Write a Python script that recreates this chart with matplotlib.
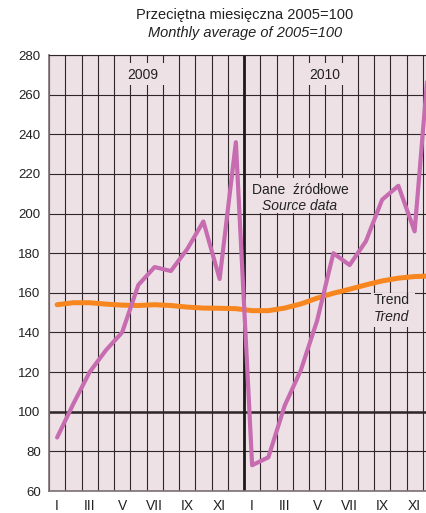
import matplotlib
matplotlib.use("Agg")
import matplotlib.pyplot as plt
from matplotlib.patches import Rectangle
import numpy as np

plt.rcParams['font.family'] = ['Liberation Sans', 'DejaVu Sans']

months = ["I", "II", "III", "IV", "V", "VI", "VII", "VIII", "IX", "X", "XI", "XII"] * 2
tick_labels = ["I", "III", "V", "VII", "IX", "XI"] * 2
years = ["2009", "2010"]

source_data = [87, 104, 120, 131, 140, 164, 173, 171, 182, 196, 167, 236,
               73, 77, 103, 121, 146, 180, 174, 186, 207, 214, 191, 290]
trend = [154, 155, 155, 154.3, 153.8, 153.6, 154, 153.6, 152.8, 152.3, 152.2, 152,
         151, 151, 152.3, 154.4, 157.3, 159.8, 161.8, 164, 166, 167.4, 168.2, 168.5]

BG = "#ede1e5"
PINK = "#c76cb0"
ORANGE = "#f7861f"
GRID = "#2e2628"
TXT = "#222222"

W, H = 427, 513
fig = plt.figure(figsize=(W / 100, H / 100), dpi=100)
left, right, top, bottom = 49, 427, 55, 491
ax = fig.add_axes([left / W, 1 - bottom / H, (right - left) / W, (bottom - top) / H])
ax.set_facecolor(BG)

month_w = 16.25
ax.set_xlim(0, (right - left) / month_w)
ax.set_ylim(60, 280)

x = np.arange(len(source_data)) + 0.5

# grid
ax.set_xticks(np.arange(0, 24), minor=True)
ax.set_xticks([i + 0.5 for i in range(24) if i % 2 == 0])
ax.set_xticklabels(tick_labels)
ax.set_yticks(np.arange(60, 281, 20))
ax.tick_params(axis='both', which='both', length=0)
ax.tick_params(axis='x', labelsize=10, pad=6, colors=TXT)
ax.tick_params(axis='y', labelsize=9.5, pad=6, colors=TXT)
ax.set_axisbelow(True)
ax.grid(axis='x', which='minor', color=GRID, lw=0.8)
ax.grid(axis='y', which='major', color=GRID, lw=0.8)
ax.axhline(100, color=GRID, lw=1.8, zorder=0.6)
ax.axvline(12, color="#1a1a1a", lw=2.0, zorder=0.7)

ax.spines['right'].set_visible(False)
ax.spines['top'].set_color(GRID)
ax.spines['top'].set_linewidth(0.8)
for s in ['left', 'bottom']:
    ax.spines[s].set_color("#7a7072")
    ax.spines[s].set_linewidth(1.2)

# label background boxes hiding the grid
for (x0, y0, w, h) in [(4.4, 265, 2.8, 11), (15.6, 265, 2.8, 11),
                       (12.4, 200.5, 5.8, 17.5), (19.8, 143, 2.7, 17)]:
    ax.add_patch(Rectangle((x0, y0), w, h, facecolor=BG, edgecolor='none', zorder=0.9))

ax.plot(x, trend, color=ORANGE, lw=3.6, solid_capstyle='round', solid_joinstyle='round', zorder=4)
ax.plot(x, source_data, color=PINK, lw=3.0, solid_capstyle='round', solid_joinstyle='round', zorder=5)

ax.text(5.8, 270, years[0], ha='center', va='center', fontsize=10, color=TXT, zorder=3)
ax.text(16.98, 270, years[1], ha='center', va='center', fontsize=10, color=TXT, zorder=3)

ax.text(15.45, 212, "Dane  źródłowe", ha='center', va='center', fontsize=10, color=TXT, zorder=3)
ax.text(15.45, 204, "Source data", ha='center', va='center', fontsize=10, color=TXT,
        style='italic', zorder=3)

ax.text(21.1, 156.4, "Trend", ha='center', va='center', fontsize=10, color=TXT, zorder=3)
ax.text(21.1, 148, "Trend", ha='center', va='center', fontsize=10, color=TXT,
        style='italic', zorder=3)

fig.text(245 / W, 1 - 15 / H, "Przeciętna miesięczna 2005=100", ha='center', va='center',
         fontsize=10.5, color=TXT)
fig.text(245 / W, 1 - 33 / H, "Monthly average of 2005=100", ha='center', va='center',
         fontsize=10.5, style='italic', color=TXT)

fig.savefig("out.png", dpi=100)
